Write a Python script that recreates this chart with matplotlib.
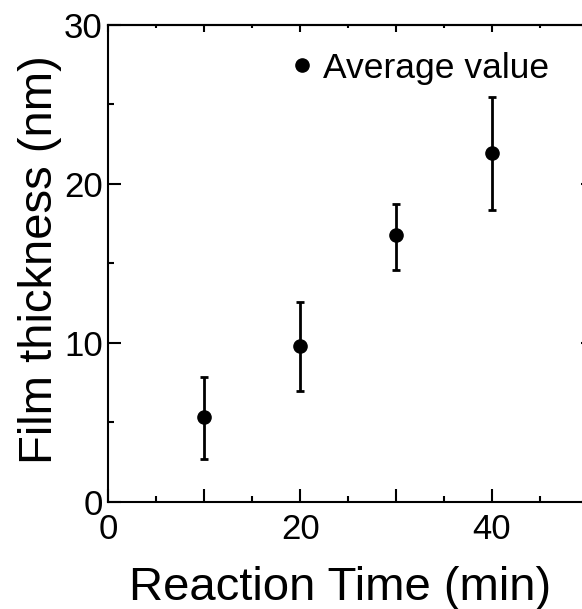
import matplotlib
matplotlib.use('Agg')
from matplotlib import pyplot as plt
from matplotlib.ticker import MultipleLocator

# data
time_min = [10, 20, 30, 40]
thickness = [5.35, 9.8, 16.75, 21.95]
err_low = [2.65, 2.8, 2.15, 3.6]
err_high = [2.5, 2.75, 2.0, 3.5]

plt.rcParams['font.family'] = ['Liberation Sans', 'DejaVu Sans']

fig = plt.figure(figsize=(5.82, 6.09), dpi=100)
ax = fig.add_axes([0.1861, 0.1757, 0.824, 0.784])

ax.errorbar(time_min, thickness, yerr=[err_low, err_high], fmt='none', ecolor='black',
            elinewidth=2, capsize=3, capthick=2)
ax.plot(time_min, thickness, 'o', color='black', markersize=9.5, label='Average value')

ax.set_xlim(0, 50)
ax.set_ylim(0, 30)

ax.xaxis.set_major_locator(MultipleLocator(10))
ax.xaxis.set_minor_locator(MultipleLocator(5))
ax.yaxis.set_major_locator(MultipleLocator(10))
ax.yaxis.set_minor_locator(MultipleLocator(5))
ax.set_xticks([0, 10, 20, 30, 40, 50])
ax.set_xticklabels(['0', '', '20', '', '40', ''])

ax.tick_params(which='both', direction='in', top=False, right=False, width=1.5)
ax.tick_params(which='major', length=9.5, labelsize=25)
ax.tick_params(axis='x', which='major', pad=8)
ax.tick_params(axis='y', which='major', pad=4)
ax.tick_params(which='minor', length=4.5)

for s in ax.spines.values():
    s.set_linewidth(1.5)

# shorter ticks on top / right
top = ax.secondary_xaxis('top')
top.xaxis.set_major_locator(MultipleLocator(10))
top.xaxis.set_minor_locator(MultipleLocator(5))
top.tick_params(which='both', direction='in', labeltop=False, width=1.5)
top.tick_params(which='major', length=5)
top.tick_params(which='minor', length=2.5)
top.spines['top'].set_linewidth(1.5)

right = ax.secondary_yaxis('right')
right.yaxis.set_major_locator(MultipleLocator(10))
right.yaxis.set_minor_locator(MultipleLocator(5))
right.tick_params(which='both', direction='in', labelright=False, width=1.5)
right.tick_params(which='major', length=5)
right.tick_params(which='minor', length=2.5)
right.spines['right'].set_linewidth(1.5)

ax.set_xlabel('Reaction Time (min)', fontsize=34)
ax.set_ylabel('Film thickness (nm)', fontsize=34)
ax.xaxis.set_label_coords(0.483, -0.135)
ax.yaxis.set_label_coords(-0.097, 0.507)

ax.legend(loc='upper left', bbox_to_anchor=(0.33, 0.995), frameon=False, fontsize=25.5,
          handlelength=0.6, handletextpad=0.3, borderaxespad=0.3)

fig.savefig('out.png', dpi=100)
